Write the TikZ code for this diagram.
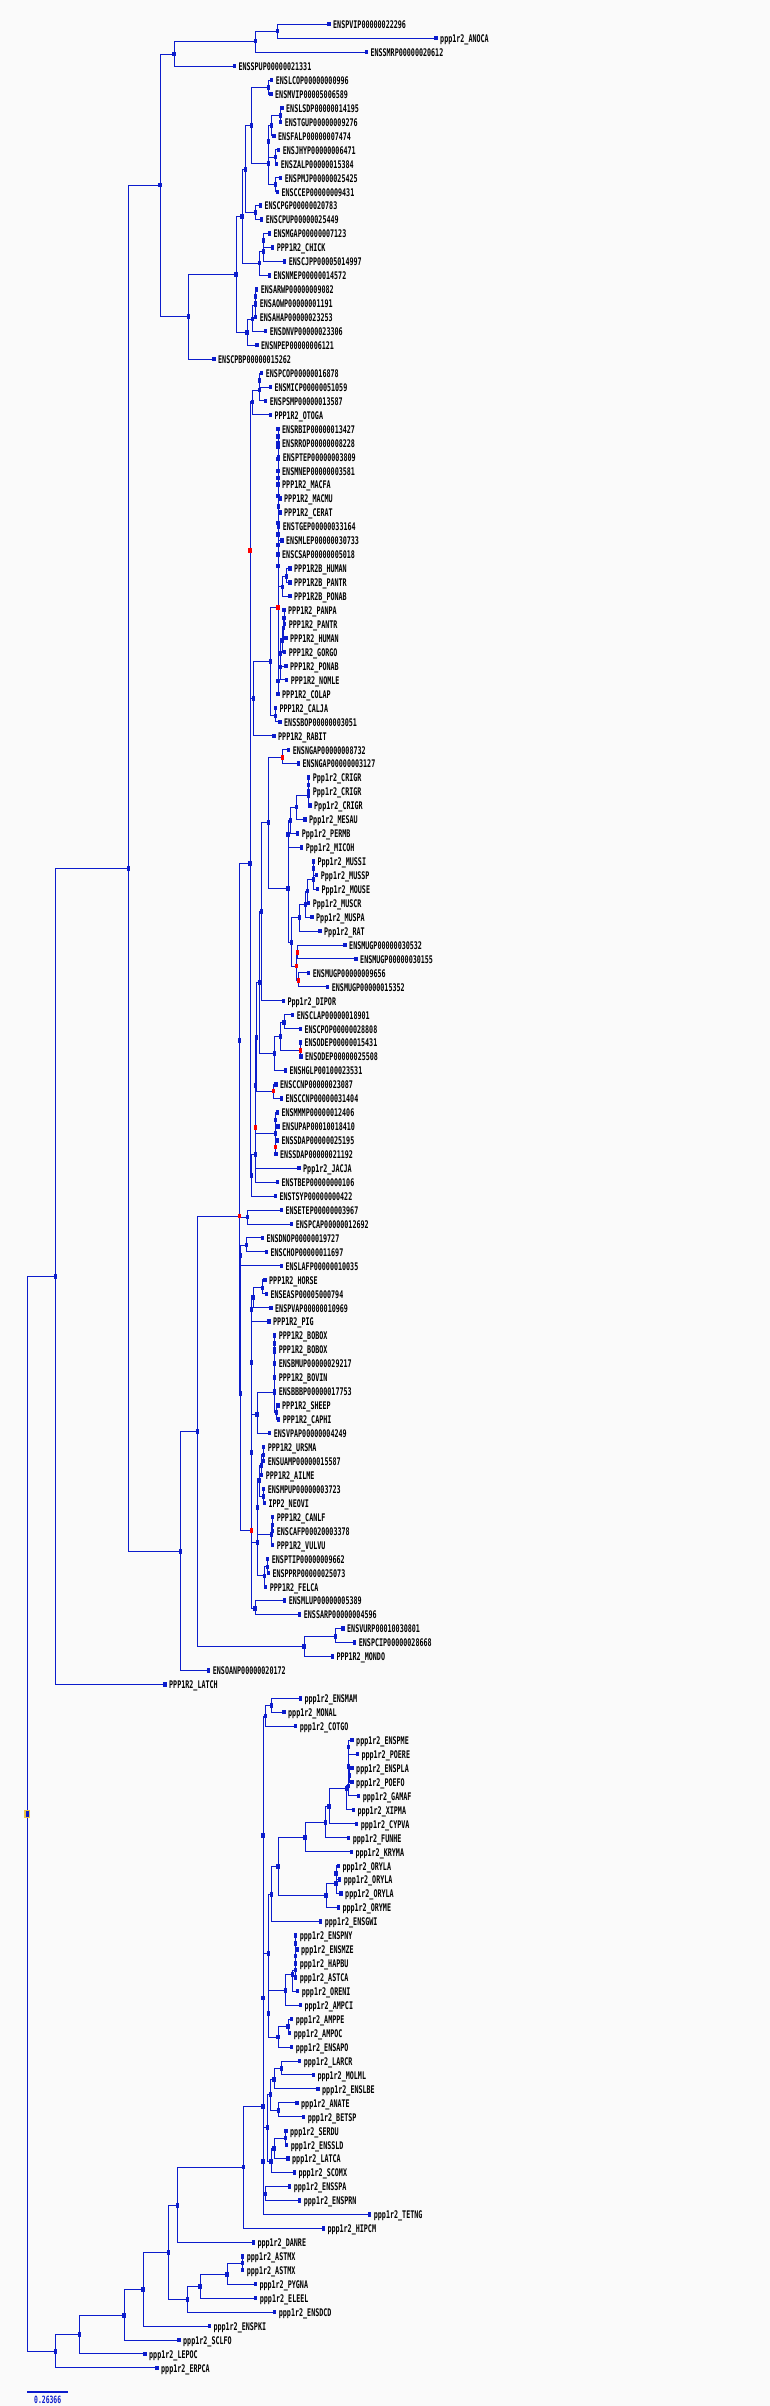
\documentclass[tikz,border=0pt]{standalone}
\usepackage{fontspec}
\newfontfamily\labfont[FakeStretch=0.64]{DejaVu Sans Mono Bold}
\definecolor{tb}{RGB}{12,28,204}
\definecolor{gold}{RGB}{236,196,70}
\definecolor{bgc}{RGB}{250,250,250}
\pgfdeclarelayer{back}
\pgfdeclarelayer{bg}
\pgfsetlayers{back,bg,main}
\tikzset{
  mk/.style={rectangle, fill=tb, minimum width=3.4pt, minimum height=4.4pt, inner sep=0pt, outer sep=0pt},
  mkred/.style={mk, fill=red},
  mkroot/.style={mk, draw=gold, line width=1.3pt, minimum width=4.8pt, minimum height=7pt},
  lab/.style={font=\labfont\fontsize{10.5}{12}\selectfont, anchor=base west, inner sep=0pt, text=black},
  conn/.style={draw=tb, line width=1pt}
}
\newcommand\Lf[3]{\node[mk] (v#1) at (#2,{24.3+13.95*#1}) {}; \node[lab] (v#1t) at ({#2+4},{28.6+13.95*#1}) {#3};}
\newcommand\Nd[3]{\node[mk] (#1) at (#2,#3) {};}
\newcommand\Rd[3]{\node[mkred] (#1) at (#2,#3) {};}
\newcommand\Two[3]{\draw[conn] (#1.center) |- (#2.center); \draw[conn] (#1.center) |- (#3.center);}
\begin{document}
\begin{tikzpicture}[x=1pt,y=-1pt]
\begin{pgfonlayer}{back}
\fill[bgc] (0,0) rectangle (770,2406);
\end{pgfonlayer}
\useasboundingbox (0,0) rectangle (770,2406);
% ---------------- leaves
\Lf{0}{329}{ENSPVIP00000022296}
\Lf{1}{436}{ppp1r2\_ANOCA}
\Lf{2}{366.3}{ENSSMRP00000020612}
\Lf{3}{234.3}{ENSSPUP00000021331}
\Lf{4}{271.7}{ENSLCOP00000000996}
\Lf{5}{271}{ENSMVIP00005006589}
\Lf{6}{282}{ENSLSDP00000014195}
\Lf{7}{280.7}{ENSTGUP00000009276}
\Lf{8}{274}{ENSFALP00000007474}
\Lf{9}{278.7}{ENSJHYP00000006471}
\Lf{10}{276.7}{ENSZALP00000015384}
\Lf{11}{280.7}{ENSPMJP00000025425}
\Lf{12}{277.3}{ENSCCEP00000009431}
\Lf{13}{260.3}{ENSCPGP00000020783}
\Lf{14}{261.7}{ENSCPUP00000025449}
\Lf{15}{269.3}{ENSMGAP00000007123}
\Lf{16}{272.7}{PPP1R2\_CHICK}
\Lf{17}{284.7}{ENSCJPP00005014997}
\Lf{18}{269.3}{ENSNMEP00000014572}
\Lf{19}{256.7}{ENSARWP00000009082}
\Lf{20}{255.7}{ENSAOWP00000001191}
\Lf{21}{255.7}{ENSAHAP00000023253}
\Lf{22}{265.7}{ENSDNVP00000023306}
\Lf{23}{257}{ENSNPEP00000006121}
\Lf{24}{214}{ENSCPBP00000015262}
\Lf{25}{261.7}{ENSPCOP00000016878}
\Lf{26}{270.3}{ENSMICP00000051059}
\Lf{27}{265.7}{ENSPSMP00000013587}
\Lf{28}{270.3}{PPP1R2\_OTOGA}
\Lf{29}{278}{ENSRBIP00000013427}
\Lf{30}{278}{ENSRROP00000008228}
\Lf{31}{278.7}{ENSPTEP00000003809}
\Lf{32}{278}{ENSMNEP00000003581}
\Lf{33}{278}{PPP1R2\_MACFA}
\Lf{34}{280}{PPP1R2\_MACMU}
\Lf{35}{280}{PPP1R2\_CERAT}
\Lf{36}{278.7}{ENSTGEP00000033164}
\Lf{37}{282}{ENSMLEP00000030733}
\Lf{38}{278}{ENSCSAP00000005018}
\Lf{39}{290}{PPP1R2B\_HUMAN}
\Lf{40}{290}{PPP1R2B\_PANTR}
\Lf{41}{290}{PPP1R2B\_PONAB}
\Lf{42}{284}{PPP1R2\_PANPA}
\Lf{43}{284.7}{PPP1R2\_PANTR}
\Lf{44}{286}{PPP1R2\_HUMAN}
\Lf{45}{284.7}{PPP1R2\_GORGO}
\Lf{46}{286}{PPP1R2\_PONAB}
\Lf{47}{286.7}{PPP1R2\_NOMLE}
\Lf{48}{278}{PPP1R2\_COLAP}
\Lf{49}{275.3}{PPP1R2\_CALJA}
\Lf{50}{280}{ENSSBOP00000003051}
\Lf{51}{274}{PPP1R2\_RABIT}
\Lf{52}{288.7}{ENSNGAP00000008732}
\Lf{53}{298.3}{ENSNGAP00000003127}
\Lf{54}{308.7}{Ppp1r2\_CRIGR}
\Lf{55}{308.7}{Ppp1r2\_CRIGR}
\Lf{56}{310}{Ppp1r2\_CRIGR}
\Lf{57}{305}{Ppp1r2\_MESAU}
\Lf{58}{297.7}{Ppp1r2\_PERMB}
\Lf{59}{301.7}{Ppp1r2\_MICOH}
\Lf{60}{313.3}{Ppp1r2\_MUSSI}
\Lf{61}{316.7}{Ppp1r2\_MUSSP}
\Lf{62}{317.3}{Ppp1r2\_MOUSE}
\Lf{63}{308.7}{Ppp1r2\_MUSCR}
\Lf{64}{312}{Ppp1r2\_MUSPA}
\Lf{65}{320}{Ppp1r2\_RAT}
\Lf{66}{345}{ENSMUGP00000030532}
\Lf{67}{356}{ENSMUGP00000030155}
\Lf{68}{308.7}{ENSMUGP00000009656}
\Lf{69}{327.7}{ENSMUGP00000015352}
\Lf{70}{283.3}{Ppp1r2\_DIPOR}
\Lf{71}{292.7}{ENSCLAP00000018901}
\Lf{72}{300.3}{ENSCPOP00000028808}
\Lf{73}{300.3}{ENSODEP00000015431}
\Lf{74}{301}{ENSODEP00000025508}
\Lf{75}{285.3}{ENSHGLP00100023531}
\Lf{76}{276}{ENSCCNP00000023087}
\Lf{77}{281.3}{ENSCCNP00000031404}
\Lf{78}{277.3}{ENSMMMP00000012406}
\Lf{79}{278}{ENSUPAP00010018410}
\Lf{80}{277.3}{ENSSDAP00000025195}
\Lf{81}{276}{ENSSDAP00000021192}
\Lf{82}{299}{Ppp1r2\_JACJA}
\Lf{83}{277.3}{ENSTBEP00000000106}
\Lf{84}{275.3}{ENSTSYP00000000422}
\Lf{85}{281.3}{ENSETEP00000003967}
\Lf{86}{291.7}{ENSPCAP00000012692}
\Lf{87}{262.3}{ENSDNOP00000019727}
\Lf{88}{266.3}{ENSCHOP00000011697}
\Lf{89}{281.3}{ENSLAFP00000010035}
\Lf{90}{265}{PPP1R2\_HORSE}
\Lf{91}{266.3}{ENSEASP00005000794}
\Lf{92}{271}{ENSPVAP00000010969}
\Lf{93}{269}{PPP1R2\_PIG}
\Lf{94}{274.7}{PPP1R2\_BOBOX}
\Lf{95}{274.7}{PPP1R2\_BOBOX}
\Lf{96}{274.7}{ENSBMUP00000029217}
\Lf{97}{274.7}{PPP1R2\_BOVIN}
\Lf{98}{274.7}{ENSBBBP00000017753}
\Lf{99}{278}{PPP1R2\_SHEEP}
\Lf{100}{278.7}{PPP1R2\_CAPHI}
\Lf{101}{269.7}{ENSVPAP00000004249}
\Lf{102}{263.7}{PPP1R2\_URSMA}
\Lf{103}{263.7}{ENSUAMP00000015587}
\Lf{104}{261.7}{PPP1R2\_AILME}
\Lf{105}{263.7}{ENSMPUP00000003723}
\Lf{106}{264.3}{IPP2\_NEOVI}
\Lf{107}{272.7}{PPP1R2\_CANLF}
\Lf{108}{272.7}{ENSCAFP00020003378}
\Lf{109}{272.7}{PPP1R2\_VULVU}
\Lf{110}{267.7}{ENSPTIP00000009662}
\Lf{111}{268.3}{ENSPPRP00000025073}
\Lf{112}{265.7}{PPP1R2\_FELCA}
\Lf{113}{284.7}{ENSMLUP00000005389}
\Lf{114}{299.7}{ENSSARP00000004596}
\Lf{115}{343}{ENSVURP00010030801}
\Lf{116}{354.7}{ENSPCIP00000028668}
\Lf{117}{332.3}{PPP1R2\_MONDO}
\Lf{118}{208.7}{ENSOANP00000020172}
\Lf{119}{165}{PPP1R2\_LATCH}
\Lf{120}{300.3}{ppp1r2\_ENSMAM}
\Lf{121}{284}{ppp1r2\_MONAL}
\Lf{122}{295.7}{ppp1r2\_COTGO}
\Lf{123}{352}{ppp1r2\_ENSPME}
\Lf{124}{357.3}{ppp1r2\_POERE}
\Lf{125}{352}{ppp1r2\_ENSPLA}
\Lf{126}{352}{ppp1r2\_POEFO}
\Lf{127}{358.7}{ppp1r2\_GAMAF}
\Lf{128}{353.3}{ppp1r2\_XIPMA}
\Lf{129}{356.7}{ppp1r2\_CYPVA}
\Lf{130}{348.7}{ppp1r2\_FUNHE}
\Lf{131}{351.3}{ppp1r2\_KRYMA}
\Lf{132}{338.3}{ppp1r2\_ORYLA}
\Lf{133}{339.7}{ppp1r2\_ORYLA}
\Lf{134}{341}{ppp1r2\_ORYLA}
\Lf{135}{338.3}{ppp1r2\_ORYME}
\Lf{136}{320.7}{ppp1r2\_ENSGWI}
\Lf{137}{295.7}{ppp1r2\_ENSPNY}
\Lf{138}{297}{ppp1r2\_ENSMZE}
\Lf{139}{295.7}{ppp1r2\_HAPBU}
\Lf{140}{295.7}{ppp1r2\_ASTCA}
\Lf{141}{297.7}{ppp1r2\_ORENI}
\Lf{142}{300.3}{ppp1r2\_AMPCI}
\Lf{143}{291.7}{ppp1r2\_AMPPE}
\Lf{144}{289.7}{ppp1r2\_AMPOC}
\Lf{145}{291.7}{ppp1r2\_ENSAPO}
\Lf{146}{299.7}{ppp1r2\_LARCR}
\Lf{147}{313.3}{ppp1r2\_MOLML}
\Lf{148}{318}{ppp1r2\_ENSLBE}
\Lf{149}{297}{ppp1r2\_ANATE}
\Lf{150}{303.7}{ppp1r2\_BETSP}
\Lf{151}{286}{ppp1r2\_SERDU}
\Lf{152}{286.7}{ppp1r2\_ENSSLD}
\Lf{153}{288}{ppp1r2\_LATCA}
\Lf{154}{294.3}{ppp1r2\_SCOMX}
\Lf{155}{289.7}{ppp1r2\_ENSSPA}
\Lf{156}{299.7}{ppp1r2\_ENSPRN}
\Lf{157}{369.7}{ppp1r2\_TETNG}
\Lf{158}{323.3}{ppp1r2\_HIPCM}
\Lf{159}{253.3}{ppp1r2\_DANRE}
\Lf{160}{242.7}{ppp1r2\_ASTMX}
\Lf{161}{242.7}{ppp1r2\_ASTMX}
\Lf{162}{255.3}{ppp1r2\_PYGNA}
\Lf{163}{255.7}{ppp1r2\_ELEEL}
\Lf{164}{274.7}{ppp1r2\_ENSDCD}
\Lf{165}{209.3}{ppp1r2\_ENSPKI}
\Lf{166}{179}{ppp1r2\_SCLFO}
\Lf{167}{145}{ppp1r2\_LEPOC}
\Lf{168}{157}{ppp1r2\_ERPCA}
% ---------------- inner nodes: top
\Nd{t1}{277.3}{31.3}\Nd{t2}{255.7}{41.3}\Nd{t3}{174}{54.3}\Nd{t4}{160}{185}
\Nd{b0}{188.3}{316.3}\Nd{b1}{236}{274.3}\Nd{b2}{242}{216.3}\Nd{b3}{245.3}{169.3}
\Nd{b4}{251.3}{125.3}\Nd{b5}{268.3}{87.3}\Nd{b6}{268.3}{163.3}\Nd{b7}{268.3}{141.3}
\Nd{b8}{271.7}{125.3}\Nd{b9}{280.7}{115.3}\Nd{b10}{275.3}{157}\Nd{b11}{275.7}{184.3}
\Nd{b12}{255.7}{212.3}\Nd{b13}{259.7}{263}\Nd{b14}{263.7}{251.3}\Nd{b15}{263.7}{240.3}
\Nd{b16}{247}{332.3}\Nd{w3}{252.3}{319}\Nd{w2}{255.7}{305}\Nd{w1}{255.7}{296.3}
% mammals
\Nd{m0}{128.7}{868.3}\Nd{m1}{180.3}{1551.3}\Nd{m2}{197.3}{1431.3}
\Nd{mars}{304}{1646.3}\Nd{mars2}{335.7}{1636.3}
\Rd{R}{239.3}{1216}\Nd{E1}{239.3}{1040.3}\Nd{afro}{247.3}{1217}
\Nd{P}{250}{863.3}\Rd{PR}{250}{550.3}
\Nd{pr1}{252.3}{401.7}\Nd{pr3}{259.7}{390}\Nd{pr4}{259.7}{380.3}
\Nd{pr2}{253.3}{698.3}\Nd{pr5}{270.3}{661.3}\Nd{pr6}{275.3}{715.7}
\Rd{redA}{278}{607.3}\Nd{T}{278}{522.7}
\Nd{q4}{278}{478}\Nd{q3}{278}{459}\Nd{q2}{278}{446.8}\Nd{q1}{278}{436.3}
\Nd{q5}{278}{496}\Nd{q6}{278.7}{506.3}
\Nd{q9}{278}{566}\Nd{q8}{278}{544.8}\Nd{q7}{278}{534.3}
\Nd{bb2}{282.7}{586.8}\Nd{bb1}{286.7}{576.3}
\Nd{a6}{278}{680.9}\Nd{a5}{280.7}{667}\Nd{a4}{280.7}{653.5}\Nd{a3}{282}{640.4}
\Nd{a2}{283.3}{628.2}\Nd{a1}{284}{617.7}
% glires
\Nd{G0}{251.3}{1175.3}\Nd{g1}{255.3}{1154.3}\Rd{g2}{255.3}{1127.3}\Nd{g3}{255.3}{1085.3}
\Nd{sq}{275.7}{1133.3}\Nd{s1}{275.7}{1120}\Rd{sr}{275.7}{1147}
\Nd{g4}{256.7}{1037.3}\Rd{ccn}{273.3}{1091}\Nd{g5}{259.7}{982.3}
\Nd{g7}{274.7}{1053.3}\Nd{g8}{280.7}{1036.3}\Nd{g9}{284}{1022.3}\Rd{ode}{300.3}{1050.3}
\Nd{g6}{261.3}{911.3}\Nd{r0}{268.3}{822.3}\Rd{ngap}{282.7}{757.3}
\Nd{r1}{288}{888.3}\Nd{r2}{288}{834.3}\Nd{r4}{290.7}{820.3}\Nd{r5}{296.3}{807}
\Nd{c2}{308.7}{795.3}\Nd{c1}{308.7}{785}
\Nd{r3}{291.7}{942.3}\Nd{r6}{299.7}{917.3}\Nd{r7}{305.3}{904.3}\Nd{r8}{307.3}{891}
\Nd{r9}{313.3}{879.3}\Nd{r10}{313.3}{868.3}
\Rd{mug}{296.7}{966}\Rd{mug1}{297.3}{952.3}\Rd{mug2}{298.7}{980.3}
% laurasiatheria etc.
\Nd{la0}{240.7}{1393.3}\Nd{la1}{240.7}{1255.3}\Nd{la3}{246.7}{1245}
\Rd{la2}{251.3}{1530.3}\Nd{bat}{255}{1608.3}\Nd{la4}{251.3}{1452.3}
\Nd{la5}{251.3}{1362.3}\Nd{la7}{251.3}{1309.3}\Nd{la9}{253}{1297.3}\Nd{la10}{262.7}{1287.7}
\Nd{la8}{257}{1414.3}\Nd{bv5}{274.7}{1392.7}\Nd{bv4}{274.7}{1377.7}\Nd{bv3}{274.7}{1363.3}
\Nd{bv2}{274.7}{1351.7}\Nd{bv1}{274.7}{1343.3}\Nd{ovis}{276.3}{1412.3}
\Nd{la6}{257.3}{1542.3}\Nd{la11}{257.3}{1507.3}\Nd{la12}{259}{1480.3}
\Nd{la13}{261.3}{1465.3}\Nd{la15}{263.7}{1454.7}\Nd{la14}{263.7}{1496.3}
\Nd{can2}{271.7}{1534.3}\Nd{can1}{272.7}{1524.7}\Nd{fel}{264.3}{1575.7}\Nd{fel1}{267.3}{1566.7}
% root and fish
\node[mkroot] (root) at (27.3,1814.3) {};
\Nd{n1}{55.3}{1276.3}\Nd{n2}{55.3}{2351.3}\Nd{f1}{79.7}{2334.3}\Nd{f2}{124}{2315.3}
\Nd{f3}{143}{2289.3}\Nd{f4}{168.7}{2252.3}\Nd{f5}{177.3}{2205.3}\Nd{f6}{187.7}{2299.3}
\Nd{f7}{200}{2286.3}\Nd{f8}{227}{2274.3}\Nd{f9}{242.7}{2263}\Nd{f10}{243.3}{2167}
\Nd{F3}{263}{2106.3}\Nd{F2}{263}{1998}\Nd{F1}{263}{1835.3}\Nd{F4}{263}{2161.3}
\Nd{k1}{265.3}{1716}\Nd{k3}{271.7}{1705.3}\Nd{k2}{268.3}{1953.3}\Nd{k4}{271.7}{1894.3}
\Nd{k6}{278}{1866.3}\Nd{k7}{305}{1837.3}\Nd{k9}{325.3}{1822.3}\Nd{k10}{329}{1806.3}
\Nd{p5}{346.7}{1788.3}\Nd{p4}{348.7}{1785.7}\Nd{p3}{348.7}{1766.3}\Nd{p1}{348.7}{1747}\Nd{p2}{349.3}{1775.5}
\Nd{k8}{326}{1895.3}\Nd{k11}{336}{1883.3}\Nd{k12}{336}{1873.3}
\Nd{k5}{268.3}{2013.3}\Nd{k13}{285.3}{1990.3}\Nd{h4}{292.7}{1974.3}\Nd{h3}{295.3}{1970}
\Nd{h2}{295.3}{1956}\Nd{h1}{295.3}{1943.3}\Nd{k14}{278}{2037}\Nd{k15}{288}{2026.3}
\Nd{k16}{267.7}{2127.3}\Nd{k18}{270.3}{2094.3}\Nd{k20}{274}{2079.3}\Nd{k22}{281.3}{2068.3}
\Nd{k21}{278.7}{2110.3}\Nd{k19}{271}{2161.3}\Nd{k23}{274}{2148.3}\Nd{k24}{285.3}{2138}
\Nd{k17}{265.3}{2194}
% scale bar
\coordinate (sb1) at (27.3,2391.7);
\coordinate (sb2) at (68.3,2391.7);
\draw[tb, line width=2pt] (sb1) -- (sb2);
\node[font=\labfont\fontsize{10}{12}\selectfont, text=tb, anchor=base, inner sep=0pt] (sbt) at (47.7,2403.6) {0.26366};
% ---------------- connectors
\begin{pgfonlayer}{bg}
\Two{t1}{v0}{v1}\Two{t2}{t1}{v2}\Two{t3}{t2}{v3}\Two{t4}{t3}{b0}
\Two{b0}{b1}{v24}\Two{b1}{b2}{b16}\Two{b2}{b3}{b13}\Two{b3}{b4}{b12}
\Two{b4}{b5}{b6}\Two{b5}{v4}{v5}\Two{b6}{b7}{b11}\Two{b7}{b8}{b10}
\Two{b8}{b9}{v8}\Two{b9}{v6}{v7}\Two{b10}{v9}{v10}\Two{b11}{v11}{v12}
\Two{b12}{v13}{v14}\Two{b13}{b14}{v18}\Two{b14}{b15}{v17}\Two{b15}{v15}{v16}
\Two{b16}{w3}{v23}\Two{w3}{w2}{v22}\Two{w2}{w1}{v21}\Two{w1}{v19}{v20}
\Two{m0}{t4}{m1}\Two{m1}{m2}{v118}\Two{m2}{R}{mars}\Two{mars}{mars2}{v117}
\Two{mars2}{v115}{v116}\Two{R}{E1}{la0}\Two{E1}{P}{afro}\Two{afro}{v85}{v86}
\Two{P}{PR}{G0}\Two{PR}{pr1}{pr2}\Two{pr1}{pr3}{v28}\Two{pr3}{pr4}{v27}
\Two{pr4}{v25}{v26}\Two{pr2}{pr5}{v51}\Two{pr5}{redA}{pr6}\Two{pr6}{v49}{v50}
\Two{redA}{T}{a6}\Two{T}{q4}{q9}\Two{q4}{q3}{q5}\Two{q3}{q2}{v32}
\Two{q2}{q1}{v31}\Two{q1}{v29}{v30}\Two{q5}{v33}{q6}\Two{q6}{v34}{v35}
\Two{q9}{q8}{bb2}\Two{q8}{q7}{v38}\Two{q7}{v36}{v37}\Two{bb2}{bb1}{v41}
\Two{bb1}{v39}{v40}\Two{a6}{a5}{v48}\Two{a5}{a4}{v47}\Two{a4}{a3}{v46}
\Two{a3}{a2}{v45}\Two{a2}{a1}{v44}\Two{a1}{v42}{v43}
\Two{G0}{g1}{v84}\Two{g1}{g2}{v83}\Two{g2}{g3}{v82}\Two{g3}{g4}{sq}
\Two{sq}{s1}{sr}\Two{s1}{v78}{v79}\Two{sr}{v80}{v81}\Two{g4}{g5}{ccn}
\Two{ccn}{v76}{v77}\Two{g5}{g6}{g7}\Two{g7}{g8}{v75}\Two{g8}{g9}{ode}
\Two{g9}{v71}{v72}\Two{ode}{v73}{v74}\Two{g6}{r0}{v70}\Two{r0}{ngap}{r1}
\Two{ngap}{v52}{v53}\Two{r1}{r2}{r3}\Two{r2}{r4}{v59}\Two{r4}{r5}{v58}
\Two{r5}{c2}{v57}\Two{c2}{c1}{v56}\Two{c1}{v54}{v55}\Two{r3}{r6}{mug}
\Two{r6}{r7}{v65}\Two{r7}{r8}{v64}\Two{r8}{r9}{v63}\Two{r9}{r10}{v62}
\Two{r10}{v60}{v61}\Two{mug}{mug1}{mug2}\Two{mug1}{v66}{v67}\Two{mug2}{v68}{v69}
\Two{la0}{la1}{la2}\Two{la1}{la3}{v89}\Two{la3}{v87}{v88}\Two{la2}{la4}{bat}
\Two{bat}{v113}{v114}\Two{la4}{la5}{la6}\Two{la5}{la7}{la8}\Two{la7}{la9}{v93}
\Two{la9}{la10}{v92}\Two{la10}{v90}{v91}\Two{la8}{bv5}{v101}\Two{bv5}{bv4}{ovis}
\Two{ovis}{v99}{v100}\Two{bv4}{bv3}{v98}\Two{bv3}{bv2}{v97}\Two{bv2}{bv1}{v96}
\Two{bv1}{v94}{v95}\Two{la6}{la11}{fel}\Two{la11}{la12}{can2}\Two{la12}{la13}{la14}
\Two{la13}{la15}{v104}\Two{la15}{v102}{v103}\Two{la14}{v105}{v106}\Two{can2}{can1}{v109}
\Two{can1}{v107}{v108}\Two{fel}{fel1}{v112}\Two{fel1}{v110}{v111}
\Two{root}{n1}{n2}\Two{n1}{m0}{v119}\Two{n2}{f1}{v168}\Two{f1}{f2}{v167}
\Two{f2}{f3}{v166}\Two{f3}{f4}{v165}\Two{f4}{f5}{f6}\Two{f6}{f7}{v164}
\Two{f7}{f8}{v163}\Two{f8}{f9}{v162}\Two{f9}{v160}{v161}\Two{f5}{f10}{v159}
\Two{f10}{F3}{v158}\Two{F3}{F2}{v157}\Two{F2}{F1}{F4}\Two{F1}{k1}{k2}
\Two{k1}{k3}{v122}\Two{k3}{v120}{v121}\Two{k2}{k4}{k5}\Two{k4}{k6}{v136}
\Two{k6}{k7}{k8}\Two{k7}{k9}{v131}\Two{k9}{k10}{v130}\Two{k10}{p5}{v129}
\Two{p5}{p4}{v128}\Two{p4}{p3}{v127}\Two{p3}{p1}{p2}\Two{p1}{v123}{v124}
\Two{p2}{v125}{v126}\Two{k8}{k11}{v135}\Two{k11}{k12}{v134}\Two{k12}{v132}{v133}
\Two{k5}{k13}{k14}\Two{k13}{h4}{v142}\Two{h4}{h3}{v141}\Two{h3}{h2}{v140}
\Two{h2}{h1}{v139}\Two{h1}{v137}{v138}\Two{k14}{k15}{v145}\Two{k15}{v143}{v144}
\Two{F4}{k16}{k17}\Two{k16}{k18}{k19}\Two{k18}{k20}{k21}\Two{k20}{k22}{v148}
\Two{k22}{v146}{v147}\Two{k21}{v149}{v150}\Two{k19}{k23}{v154}\Two{k23}{k24}{v153}
\Two{k24}{v151}{v152}\Two{k17}{v155}{v156}
\end{pgfonlayer}
\end{tikzpicture}
\end{document}
